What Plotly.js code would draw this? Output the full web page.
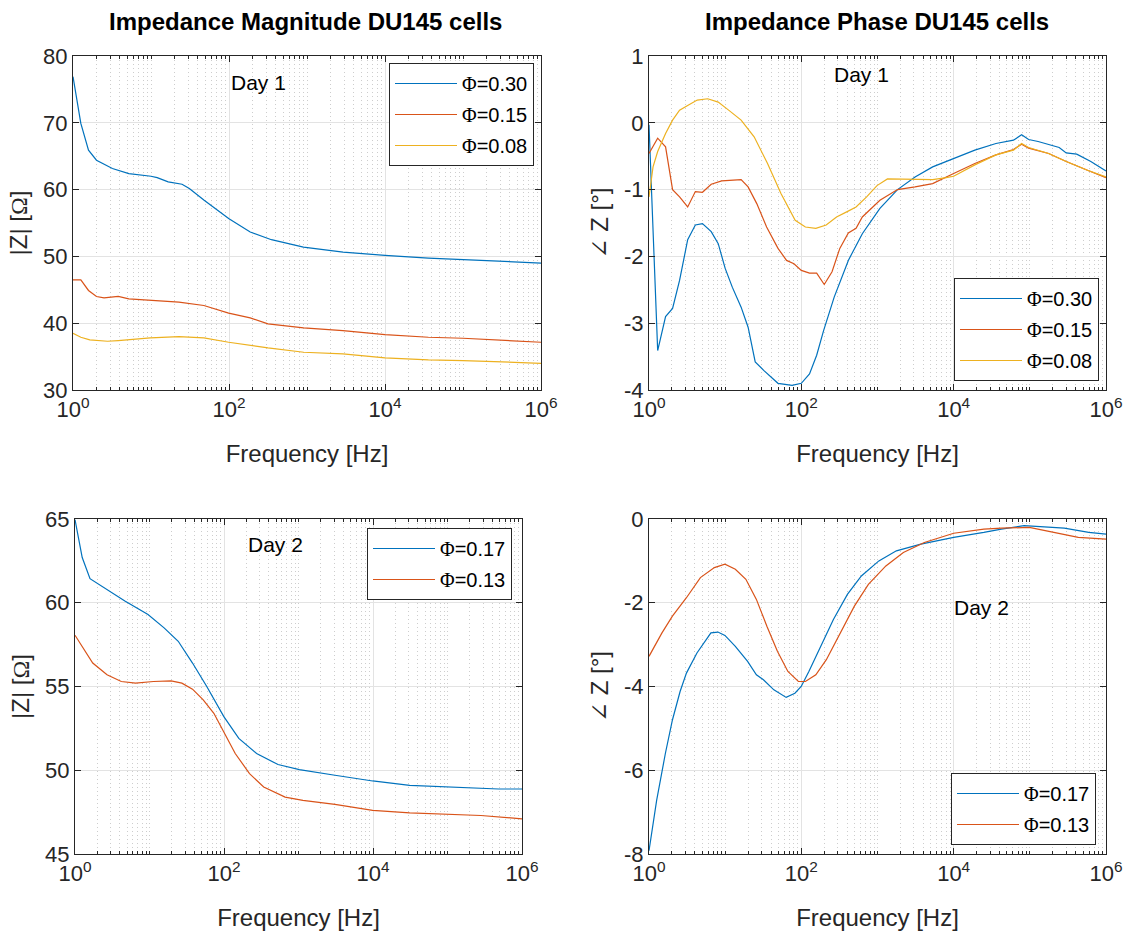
<!DOCTYPE html>
<html>
<head>
<meta charset="utf-8">
<script src="https://cdn.plot.ly/plotly-3.0.1.min.js"></script>
<style>
  html, body { margin: 0; padding: 0; background: #ffffff; }
  #chart { width: 1134px; height: 934px; }
</style>
</head>
<body>
<div id="chart"></div>
<script>
// ---- Day 1: impedance magnitude |Z| [Ohm] ----
const magD1_phi030_f = [1, 1.26, 1.58, 2, 3.2, 5.2, 10, 12, 16.6, 25, 31, 48, 100, 187, 350, 900, 2900, 1e4, 3.6e4, 1e5, 3e5, 1e6];
const magD1_phi030_z = [76.9, 69.9, 65.9, 64.4, 63.15, 62.4, 62.0, 61.8, 61.15, 60.8, 60.15, 58.4, 55.65, 53.65, 52.5, 51.4, 50.65, 50.15, 49.75, 49.55, 49.3, 49.0];
const magD1_phi015_f = [1, 1.26, 1.58, 2, 2.5, 3.8, 5.2, 9.8, 22.8, 47.6, 99, 187, 316, 906, 2884, 1e4, 3.6e4, 1e5, 3e5, 1e6];
const magD1_phi015_z = [46.5, 46.5, 44.9, 44.0, 43.8, 44.0, 43.65, 43.4, 43.15, 42.65, 41.5, 40.8, 39.9, 39.3, 38.9, 38.3, 37.9, 37.75, 37.5, 37.15];
const magD1_phi008_f = [1, 1.26, 1.64, 2.77, 3.8, 9.8, 22.8, 47.6, 99, 187, 316, 906, 2884, 1e4, 3.6e4, 1e5, 3e5, 1e6];
const magD1_phi008_z = [38.5, 37.9, 37.5, 37.3, 37.4, 37.8, 38.0, 37.8, 37.15, 36.65, 36.3, 35.65, 35.4, 34.8, 34.5, 34.4, 34.25, 34.0];

// ---- Day 1: impedance phase [deg] ----
const phD1_phi030_f = [1, 1.3, 1.65, 2.04, 2.52, 3.22, 4.06, 5.03, 6.56, 8.11, 10, 12.4, 16.2, 20, 24.8, 32.3, 49.4, 75.5, 100, 128, 159, 196, 270, 414, 632, 1076, 1832, 3113, 5297, 1e4, 18970, 35890, 61000, 78000, 96400, 128500, 176600, 242800, 300400, 413000, 632000, 1e6];
const phD1_phi030_p = [-0.03, -3.41, -2.9, -2.78, -2.36, -1.75, -1.53, -1.51, -1.63, -1.81, -2.18, -2.46, -2.76, -3.06, -3.58, -3.71, -3.9, -3.93, -3.9, -3.76, -3.48, -3.11, -2.61, -2.06, -1.66, -1.28, -1.0, -0.81, -0.66, -0.53, -0.41, -0.31, -0.26, -0.18, -0.25, -0.28, -0.33, -0.37, -0.45, -0.47, -0.58, -0.72];
const phD1_phi015_f = [1, 1.3, 1.65, 2.04, 2.52, 3.22, 4.06, 5.03, 6.56, 9.0, 16.2, 20, 26, 35, 49.4, 64, 80, 100, 128, 159, 200, 253, 320, 414, 523, 632, 1076, 1832, 3113, 5297, 1e4, 18970, 35890, 61000, 78000, 96400, 176600, 300400, 571000, 1e6];
const phD1_phi015_p = [-0.46, -0.23, -0.36, -1.0, -1.11, -1.26, -1.03, -1.04, -0.92, -0.87, -0.85, -0.96, -1.21, -1.56, -1.88, -2.06, -2.11, -2.21, -2.25, -2.25, -2.42, -2.23, -1.88, -1.65, -1.58, -1.41, -1.16, -1.0, -0.96, -0.91, -0.76, -0.61, -0.48, -0.40, -0.32, -0.38, -0.46, -0.58, -0.71, -0.82];
const phD1_phi008_f = [1, 1.13, 1.3, 1.65, 2.04, 2.52, 3.22, 4.3, 5.9, 8.1, 11.1, 16.2, 24, 36, 54, 83, 113, 155, 212, 290, 400, 523, 720, 985, 1350, 1832, 3113, 5297, 8000, 1e4, 18970, 35890, 61000, 78000, 96400, 176600, 300400, 571000, 1e6];
const phD1_phi008_p = [-1.11, -0.66, -0.43, -0.16, 0.04, 0.19, 0.26, 0.34, 0.36, 0.31, 0.19, 0.04, -0.21, -0.61, -1.06, -1.46, -1.56, -1.58, -1.53, -1.41, -1.33, -1.26, -1.11, -0.94, -0.84, -0.84, -0.85, -0.85, -0.82, -0.80, -0.63, -0.48, -0.41, -0.31, -0.37, -0.46, -0.58, -0.71, -0.81];

// ---- Day 2: impedance magnitude |Z| [Ohm] ----
const magD2_phi017_f = [1, 1.25, 1.59, 2.69, 4.67, 9.55, 15.7, 24.3, 37.8, 58.7, 99.5, 158, 274, 531, 1026, 3086, 9900, 31100, 93500, 488000, 1e6];
const magD2_phi017_z = [64.96, 62.7, 61.44, 60.8, 60.1, 59.3, 58.5, 57.7, 56.4, 55.0, 53.2, 51.9, 51.0, 50.34, 50.04, 49.7, 49.36, 49.1, 49.0, 48.88, 48.88];
const magD2_phi013_f = [1, 1.25, 1.73, 2.69, 4.18, 6.5, 11.3, 19.5, 27.2, 37.8, 52.6, 73.1, 99.5, 141.5, 220, 341, 661, 1146, 3086, 9900, 31100, 93500, 281000, 1e6];
const magD2_phi013_z = [58.06, 57.4, 56.4, 55.7, 55.3, 55.2, 55.3, 55.34, 55.2, 54.84, 54.2, 53.4, 52.3, 51.0, 49.8, 49.0, 48.4, 48.2, 47.96, 47.6, 47.46, 47.4, 47.3, 47.1];

// ---- Day 2: impedance phase [deg] ----
const phD2_phi017_f = [1, 1.26, 1.64, 2.03, 2.56, 3.1, 4.26, 6.5, 8.03, 9.93, 13.6, 19.7, 25.7, 31.8, 43.6, 63.2, 82.3, 99.6, 125.6, 172.6, 263.6, 402.5, 614, 1042, 1770, 3707, 1e4, 24900, 42300, 84000, 121700, 283400, 594000, 1e6];
const phD2_phi017_p = [-7.92, -6.72, -5.6, -4.8, -4.12, -3.68, -3.2, -2.72, -2.70, -2.78, -3.04, -3.4, -3.72, -3.84, -4.08, -4.26, -4.16, -4.0, -3.64, -3.12, -2.4, -1.8, -1.36, -1.0, -0.76, -0.6, -0.44, -0.32, -0.24, -0.16, -0.18, -0.22, -0.32, -0.36];
const phD2_phi013_f = [1, 1.48, 2.03, 3.1, 4.73, 7.22, 9.93, 13.6, 18.7, 25.7, 35.3, 48.5, 66.6, 91.5, 113, 155, 213, 326, 497, 759, 1288, 2185, 4120, 1e4, 24900, 42300, 98400, 206500, 432500, 1e6];
const phD2_phi013_p = [-3.28, -2.72, -2.32, -1.88, -1.4, -1.16, -1.08, -1.2, -1.44, -1.92, -2.56, -3.16, -3.64, -3.88, -3.88, -3.72, -3.36, -2.72, -2.08, -1.56, -1.12, -0.8, -0.56, -0.34, -0.24, -0.22, -0.2, -0.32, -0.44, -0.48];

// ---- labels and ticks ----
const seriesDay1 = ['0.30', '0.15', '0.08'];
const seriesDay2 = ['0.17', '0.13'];
const freqTickVals = [1, 100, 1e4, 1e6];
const freqTickText = ['10<sup>0</sup>', '10<sup>2</sup>', '10<sup>4</sup>', '10<sup>6</sup>'];
const magD1TickVals = [30, 40, 50, 60, 70, 80];
const phD1TickVals = [-4, -3, -2, -1, 0, 1];
const magD2TickVals = [45, 50, 55, 60, 65];
const phD2TickVals = [-8, -6, -4, -2, 0];

// MATLAB default line colours
const C1 = '#0072BD', C2 = '#D95319', C3 = '#EDB120';
const SANS = 'Liberation Sans, Arial, sans-serif';
const AX = '#262626';

// symbol glyphs set in a serif face, as TeX markup renders them
const sym = ch => '<span style="font-family:\'Liberation Serif\',\'DejaVu Serif\',serif">' + ch + '</span>';
const phiName = v => sym('Φ') + '=' + v;

// minor log ticks: 2..9 x 10^k plus the odd decades
const minorVals = [];
for (let k = 0; k < 6; k++) {
  for (let m = 1; m <= 9; m++) {
    const v = m * Math.pow(10, k);
    if (m === 1 && k % 2 === 0) continue;
    minorVals.push(v);
  }
}

const W = 1134, H = 934;
const px2x = p => p / W;
const px2y = p => 1 - p / H;

function trace(x, y, name, color, xa, ya, legend) {
  return {
    type: 'scatter', mode: 'lines', x: x, y: y, name: name,
    line: { color: color, width: 1.2 },
    xaxis: xa, yaxis: ya, legend: legend, legendgroup: legend + '|' + name
  };
}

const data = [
  trace(magD1_phi030_f, magD1_phi030_z, phiName(seriesDay1[0]), C1, 'x', 'y', 'legend'),
  trace(magD1_phi015_f, magD1_phi015_z, phiName(seriesDay1[1]), C2, 'x', 'y', 'legend'),
  trace(magD1_phi008_f, magD1_phi008_z, phiName(seriesDay1[2]), C3, 'x', 'y', 'legend'),
  trace(phD1_phi030_f, phD1_phi030_p, phiName(seriesDay1[0]), C1, 'x2', 'y2', 'legend2'),
  trace(phD1_phi015_f, phD1_phi015_p, phiName(seriesDay1[1]), C2, 'x2', 'y2', 'legend2'),
  trace(phD1_phi008_f, phD1_phi008_p, phiName(seriesDay1[2]), C3, 'x2', 'y2', 'legend2'),
  trace(magD2_phi017_f, magD2_phi017_z, phiName(seriesDay2[0]), C1, 'x3', 'y3', 'legend3'),
  trace(magD2_phi013_f, magD2_phi013_z, phiName(seriesDay2[1]), C2, 'x3', 'y3', 'legend3'),
  trace(phD2_phi017_f, phD2_phi017_p, phiName(seriesDay2[0]), C1, 'x4', 'y4', 'legend4'),
  trace(phD2_phi013_f, phD2_phi013_p, phiName(seriesDay2[1]), C2, 'x4', 'y4', 'legend4')
];

function xAxis(domainPx, anchor) {
  return {
    type: 'log', domain: [px2x(domainPx[0]), px2x(domainPx[1])], anchor: anchor,
    range: [0, 6], tickmode: 'array', tickvals: freqTickVals, ticktext: freqTickText,
    ticks: 'inside', ticklen: 6, tickcolor: AX, tickwidth: 1,
    showline: true, linecolor: AX, linewidth: 1, mirror: 'ticks',
    showgrid: true, gridcolor: '#e3e3e3', gridwidth: 1, zeroline: false,
    tickfont: { family: SANS, size: 22, color: AX },
    minor: { tickmode: 'array', tickvals: minorVals, ticks: 'inside', ticklen: 3, tickcolor: AX,
             showgrid: true, gridcolor: '#cdcdcd', griddash: '1px,3px', gridwidth: 1 },
    title: { text: 'Frequency [Hz]', font: { family: SANS, size: 24, color: AX }, standoff: 23 },
    automargin: false
  };
}

function yAxis(domainPx, anchor, range, vals, title) {
  return {
    domain: [px2y(domainPx[1]), px2y(domainPx[0])], anchor: anchor,
    range: range, tickmode: 'array', tickvals: vals, ticktext: vals.map(String),
    ticks: 'inside', ticklen: 6, tickcolor: AX, tickwidth: 1,
    showline: true, linecolor: AX, linewidth: 1, mirror: 'ticks',
    showgrid: true, gridcolor: '#e3e3e3', gridwidth: 1, zeroline: false,
    tickfont: { family: SANS, size: 22, color: AX },
    title: { text: title, font: { family: SANS, size: 24, color: AX }, standoff: 8 },
    automargin: false
  };
}

function legendBox(rightPx, topPx) {
  return {
    x: px2x(rightPx), y: px2y(topPx), xanchor: 'right', yanchor: 'top',
    xref: 'paper', yref: 'paper',
    bgcolor: '#ffffff', bordercolor: AX, borderwidth: 1,
    font: { family: SANS, size: 20, color: '#000000' },
    tracegroupgap: 2, itemwidth: 62
  };
}

const magTitle = '|Z| [' + sym('Ω') + ']';
const phTitle = sym('∠') + ' Z [°]';

const layout = {
  width: W, height: H,
  margin: { l: 0, r: 0, t: 0, b: 0 },
  paper_bgcolor: '#ffffff', plot_bgcolor: '#ffffff',
  font: { family: SANS, color: AX },
  showlegend: true,
  xaxis: xAxis([73, 541], 'y'),
  yaxis: yAxis([56, 390], 'x', [30, 80], magD1TickVals, magTitle),
  xaxis2: xAxis([649, 1106], 'y2'),
  yaxis2: yAxis([56, 390], 'x2', [-4, 1], phD1TickVals, phTitle),
  xaxis3: xAxis([75, 522], 'y3'),
  yaxis3: yAxis([519, 854], 'x3', [45, 65], magD2TickVals, magTitle),
  xaxis4: xAxis([649, 1106], 'y4'),
  yaxis4: yAxis([519, 854], 'x4', [-8, 0], phD2TickVals, phTitle),
  legend: legendBox(534, 63),
  legend2: legendBox(1099, 278),
  legend3: legendBox(512, 528),
  legend4: legendBox(1096, 773),
  annotations: [
    { text: '<b>Impedance Magnitude DU145 cells</b>', x: px2x(305), y: px2y(22), xref: 'paper', yref: 'paper',
      showarrow: false, xanchor: 'center', yanchor: 'middle', font: { family: SANS, size: 24, color: '#000000' } },
    { text: '<b>Impedance Phase DU145 cells</b>', x: px2x(877), y: px2y(22), xref: 'paper', yref: 'paper',
      showarrow: false, xanchor: 'center', yanchor: 'middle', font: { family: SANS, size: 24, color: '#000000' } },
    { text: 'Day 1', x: px2x(258), y: px2y(82), xref: 'paper', yref: 'paper', showarrow: false,
      xanchor: 'center', yanchor: 'middle', font: { family: SANS, size: 21, color: '#000000' } },
    { text: 'Day 1', x: px2x(861), y: px2y(75), xref: 'paper', yref: 'paper', showarrow: false,
      xanchor: 'center', yanchor: 'middle', font: { family: SANS, size: 21, color: '#000000' } },
    { text: 'Day 2', x: px2x(275), y: px2y(544), xref: 'paper', yref: 'paper', showarrow: false,
      xanchor: 'center', yanchor: 'middle', font: { family: SANS, size: 21, color: '#000000' } },
    { text: 'Day 2', x: px2x(981), y: px2y(607), xref: 'paper', yref: 'paper', showarrow: false,
      xanchor: 'center', yanchor: 'middle', font: { family: SANS, size: 21, color: '#000000' } }
  ]
};

Plotly.newPlot('chart', data, layout, { displayModeBar: false, responsive: false, staticPlot: true });
</script>
</body>
</html>
